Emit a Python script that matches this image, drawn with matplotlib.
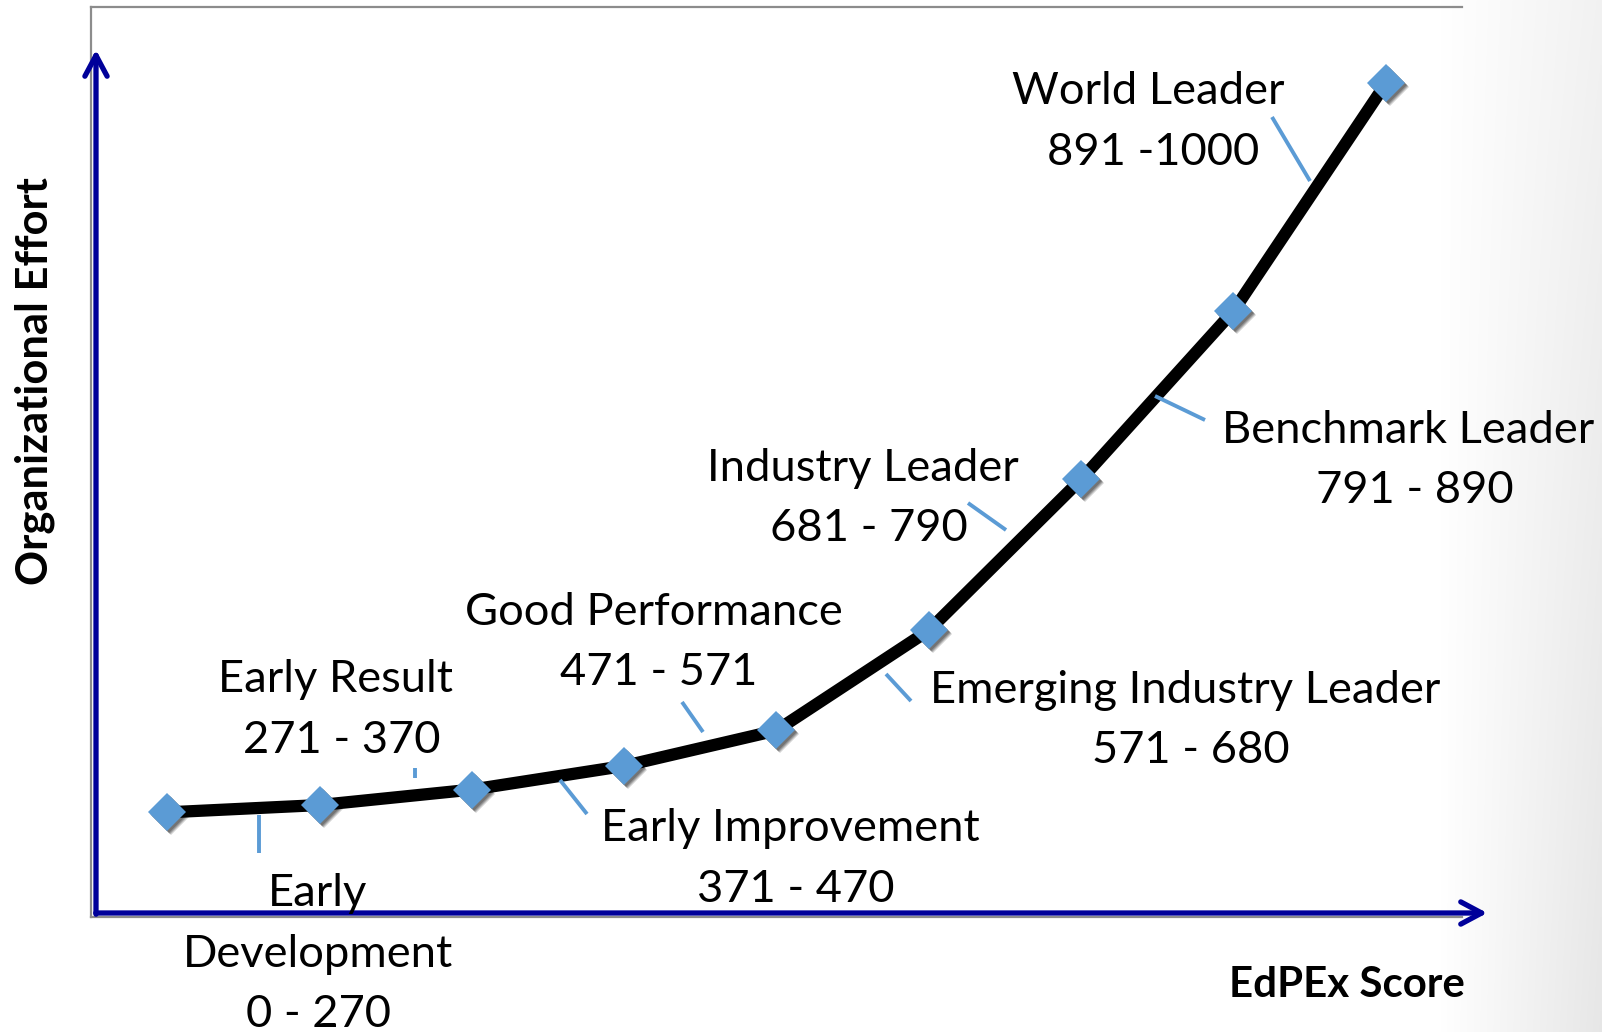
import matplotlib
matplotlib.use("Agg")
import matplotlib.pyplot as plt
import numpy as np
from matplotlib.patches import FancyArrowPatch
import matplotlib.transforms as mtransforms

W, H, DPI = 1612, 1032, 100

# ---------------- data ----------------
positions = [1, 2, 3, 4, 5, 6, 7, 8, 9]
effort = [11.5, 12.3, 14.0, 16.6, 20.5, 31.5, 48.1, 66.6, 91.6]
stage_names = ["Early Development", "Early Result", "Early Improvement",
               "Good Performance", "Emerging Industry Leader",
               "Industry Leader", "Benchmark Leader", "World Leader"]
stage_ranges = ["0 - 270", "271 - 370", "371 - 470", "471 - 571",
                "571 - 680", "681 - 790", "791 - 890", "891 -1000"]
x_title = "EdPEx Score"
y_title = "Organizational Effort"

# ---------------- layout (pixels, top-left origin) ----------------
# label lines: (text, center x, baseline y, target width)
label_lines = [
    ("Early", 318, 906, 98), ("Development", 318, 967, 272), (stage_ranges[0], 318, 1027, 140),
    ("Early Result", 335, 692, 235), (stage_ranges[1], 342, 753, 190),
    ("Early Improvement", 790, 841, 388), (stage_ranges[2], 796, 902, 190),
    ("Good Performance", 654, 625, 385), (stage_ranges[3], 659, 685, 190),
    ("Emerging Industry Leader", 1185, 703, 524), (stage_ranges[4], 1191, 763, 190),
    ("Industry Leader", 863, 481, 320), (stage_ranges[5], 869, 541, 190),
    ("Benchmark Leader", 1408, 443, 377), (stage_ranges[6], 1415, 503, 190),
    ("World Leader", 1148, 104, 274), (stage_ranges[7], 1153, 165, 204),
]
leaders = [
    ((259, 815), (259, 853)),
    ((415, 768), (415, 778)),
    ((560, 780), (587, 814)),
    ((682, 702), (703, 732)),
    ((886, 674), (911, 701)),
    ((968, 503), (1006, 530)),
    ((1155, 396), (1205, 420)),
    ((1272, 117), (1310, 181)),
]

def fx(px):
    return px / W

def fy(py):
    return 1 - py / H

fig = plt.figure(figsize=(W / DPI, H / DPI), dpi=DPI)
fig.patch.set_facecolor("white")

# background gradient on the right side
bg = fig.add_axes([0, 0, 1, 1], zorder=-10)
xx, yy = np.meshgrid(np.arange(W), np.arange(H))
t = np.clip((xx - 1440) / 160.0, 0, 1) * (0.55 + 0.45 * yy / H)
g = 1 - 0.095 * t
g[:, 1602:] = 1.0
bg.imshow(np.dstack([g, g, g]), extent=[0, W, H, 0], aspect="auto", interpolation="bilinear")
bg.set_xlim(0, W)
bg.set_ylim(H, 0)
bg.axis("off")

# main axes
L, R, T, B = 91, 1462, 7, 917
ax = fig.add_axes([L / W, 1 - B / H, (R - L) / W, (B - T) / H])
ax.patch.set_visible(False)
ax.set_xlim(0.5, 9.5)
ax.set_ylim(0, 100)
ax.set_xticks([])
ax.set_yticks([])
for s in ["left", "top", "bottom"]:
    ax.spines[s].set_color("#8c8c8c")
    ax.spines[s].set_linewidth(1.6)
ax.spines["right"].set_visible(False)

# the curve
ax.plot(positions, effort, color="black", lw=8.8, solid_joinstyle="round",
        solid_capstyle="round", zorder=2)
for off, a in [(4, 0.18), (3, 0.25), (2, 0.25)]:
    sh = ax.transData + mtransforms.ScaledTranslation(off / DPI, -off / DPI, fig.dpi_scale_trans)
    ax.plot(positions, effort, ls="none", marker="D", ms=19.5, color="black",
            alpha=a, mew=0, transform=sh, zorder=2.5)
ax.plot(positions, effort, ls="none", marker="D", ms=19.5, color="#5B9BD5",
        mew=0, zorder=3)

# axis arrows
arrow_color = "#00009A"
for (x0, y0), (x1, y1) in [((96, 917), (96, 47)), ((93, 913), (1490, 913))]:
    ar = FancyArrowPatch((fx(x0), fy(y0)), (fx(x1), fy(y1)), transform=fig.transFigure,
                         arrowstyle="->,head_length=1.5,head_width=0.8", mutation_scale=10,
                         color=arrow_color, lw=3.8, capstyle="round", joinstyle="round",
                         zorder=4)
    fig.patches.append(ar)

# leader lines
for (x0, y0), (x1, y1) in leaders:
    fig.add_artist(plt.Line2D([fx(x0), fx(x1)], [fy(y0), fy(y1)], transform=fig.transFigure,
                              color="#5B9BD5", lw=2.8, solid_capstyle="butt", zorder=5))

# labels with a size fitted to the widths
FONT = ["Lato", "DejaVu Sans"]
texts = []
for txt, cx, by, tw in label_lines:
    texts.append(fig.text(fx(cx), fy(by), txt, ha="center", va="baseline",
                          fontsize=30, family=FONT, color="black", zorder=6))
xt = fig.text(fx(1347), fy(997), x_title, ha="center", va="baseline", fontsize=26,
              fontweight="bold", family=FONT)
yt = fig.text(fx(35), fy(381), y_title, ha="center", va="center", rotation=90,
              fontsize=26, fontweight="bold", family=FONT)

fig.canvas.draw()
r = fig.canvas.get_renderer()
meas = sum(t_.get_window_extent(r).width for t_ in texts)
target = sum(l[3] for l in label_lines)
fs = 30 * target / meas
for t_ in texts:
    t_.set_fontsize(fs)
wx = xt.get_window_extent(r).width
xt.set_fontsize(26 * 236 / wx)
wy = yt.get_window_extent(r).height
yt.set_fontsize(26 * 409 / wy)

fig.savefig("out.png", dpi=DPI)
